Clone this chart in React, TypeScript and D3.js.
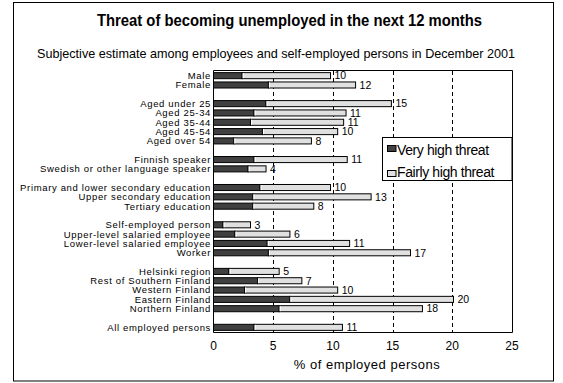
import React, { useEffect } from "react";
import * as d3 from "d3";

const categories = [
  "Male",
  "Female",
  "Aged under 25",
  "Aged 25-34",
  "Aged 35-44",
  "Aged 45-54",
  "Aged over 54",
  "Finnish speaker",
  "Swedish or other language speaker",
  "Primary and lower secondary education",
  "Upper secondary education",
  "Tertiary education",
  "Self-employed person",
  "Upper-level salaried employee",
  "Lower-level salaried employee",
  "Worker",
  "Helsinki region",
  "Rest of Southern Finland",
  "Western Finland",
  "Eastern Finland",
  "Northern Finland",
  "All employed persons",
];
const groupSizes = [2, 5, 2, 3, 4, 5, 1];
const veryHigh = [2.4, 4.6, 4.4, 3.4, 3.1, 4.1, 1.7, 3.4, 2.9, 3.9, 3.3, 3.3, 0.8, 1.8, 4.5, 4.6, 1.3, 3.7, 2.6, 6.4, 5.5, 3.4];
const fairlyHigh = [7.4, 7.3, 10.5, 7.7, 7.8, 6.3, 6.5, 7.8, 1.5, 5.9, 9.9, 5.1, 2.3, 4.6, 6.9, 11.9, 4.2, 3.7, 7.8, 13.7, 12.0, 7.4];
const totalLabels = ["10", "12", "15", "11", "11", "10", "8", "11", "4", "10", "13", "8", "3", "6", "11", "17", "5", "7", "10", "20", "18", "11"];
const xTicks = [0, 5, 10, 15, 20, 25];
const gridTicks = [5, 10, 15, 20];
const seriesNames = ["Very high threat", "Fairly high threat"];
const seriesColors = ["#404040", "#e0e0e0"];

const W = 563;
const H = 383;
const font = "'Liberation Sans', Arial, sans-serif";

export default function App() {
  useEffect(() => {
    document.body.style.margin = "0";
  }, []);

  const slots: string[] = [];
  const catSlot: string[] = [];
  let idx = 0;
  groupSizes.forEach((n, g) => {
    for (let i = 0; i < n; i++) {
      const key = "c" + idx;
      slots.push(key);
      catSlot.push(key);
      idx++;
    }
    if (g < groupSizes.length - 1) slots.push("gap" + g);
  });

  const plotLeft = 213.5;
  const plotRight = 512;
  const plotTop = 71;
  const plotBottom = 332;

  const x = d3.scaleLinear().domain([0, 25]).range([plotLeft, plotRight]);
  const y = d3
    .scaleBand<string>()
    .domain(slots)
    .range([plotTop, plotBottom])
    .paddingInner(0.35)
    .paddingOuter(0.175);
  const bw = y.bandwidth();

  return (
    <svg width={W} height={H} style={{ position: "absolute", left: 0, top: 0, background: "#fff" }} fontFamily={font}>
      <rect x={0} y={0} width={W} height={H} fill="#fff" />
      <rect x={13.5} y={2.5} width={540} height={378.5} fill="none" stroke="#000" strokeWidth={1} />
      <text x={289.5} y={26} textAnchor="middle" fontSize={16} fontWeight="bold" textLength={385} lengthAdjust="spacingAndGlyphs">
        Threat of becoming unemployed in the next 12 months
      </text>
      <text x={276} y={58} textAnchor="middle" fontSize={13} textLength={478} lengthAdjust="spacingAndGlyphs">
        Subjective estimate among employees and self-employed persons in December 2001
      </text>

      {/* gridlines */}
      {gridTicks.map((t) => (
        <line key={t} x1={Math.round(x(t)) + 0.5} x2={Math.round(x(t)) + 0.5} y1={plotTop} y2={plotBottom} stroke="#000" strokeDasharray="4,3" />
      ))}

      {/* plot frame */}
      <line x1={plotLeft} x2={plotRight + 0.5} y1={plotTop - 0.5} y2={plotTop - 0.5} stroke="#000" />
      <line x1={plotRight + 0.5} x2={plotRight + 0.5} y1={plotTop - 0.5} y2={plotBottom + 0.5} stroke="#000" />

      {/* bars */}
      {categories.map((c, i) => {
        const yy = y(catSlot[i])!;
        const d = veryHigh[i];
        const f = fairlyHigh[i];
        return (
          <g key={c}>
            <rect x={x(0)} y={yy} width={x(d) - x(0)} height={bw} fill={seriesColors[0]} stroke="#000" strokeWidth={1} />
            <rect x={x(d)} y={yy} width={x(d + f) - x(d)} height={bw} fill={seriesColors[1]} stroke="#000" strokeWidth={1} />
            <line x1={x(d) + 1} x2={x(d) + 1} y1={yy + 0.5} y2={yy + bw - 0.5} stroke="#fff" strokeWidth={1} />
            <text x={x(d + f) + 4} y={yy + bw / 2 + 3.8} fontSize={10.5}>
              {totalLabels[i]}
            </text>
            <text x={211} y={yy + bw / 2 + 3.4} fontSize={9.5} textAnchor="end" letterSpacing={0.65}>
              {c}
            </text>
          </g>
        );
      })}

      {/* axes */}
      <line x1={plotLeft} x2={plotLeft} y1={plotTop - 0.5} y2={plotBottom + 0.5} stroke="#000" />
      <line x1={plotLeft} x2={plotRight + 0.5} y1={plotBottom + 0.5} y2={plotBottom + 0.5} stroke="#000" />
      {xTicks.map((t) => (
        <text key={t} x={x(t)} y={350} textAnchor="middle" fontSize={12}>
          {t}
        </text>
      ))}
      <text x={367} y={369} textAnchor="middle" fontSize={13} letterSpacing={0.5}>
        % of employed persons
      </text>

      {/* legend */}
      <rect x={382.5} y={137.5} width={129.5} height={43} fill="#fff" stroke="#000" />
      {seriesNames.map((s, i) => (
        <g key={s}>
          <rect x={387.5} y={i === 0 ? 145.5 : 170.5} width={8.5} height={6} fill={seriesColors[i]} stroke="#000" />
          <text x={397} y={i === 0 ? 155 : 177} fontSize={14} letterSpacing={-0.4}>
            {s}
          </text>
        </g>
      ))}
    </svg>
  );
}
